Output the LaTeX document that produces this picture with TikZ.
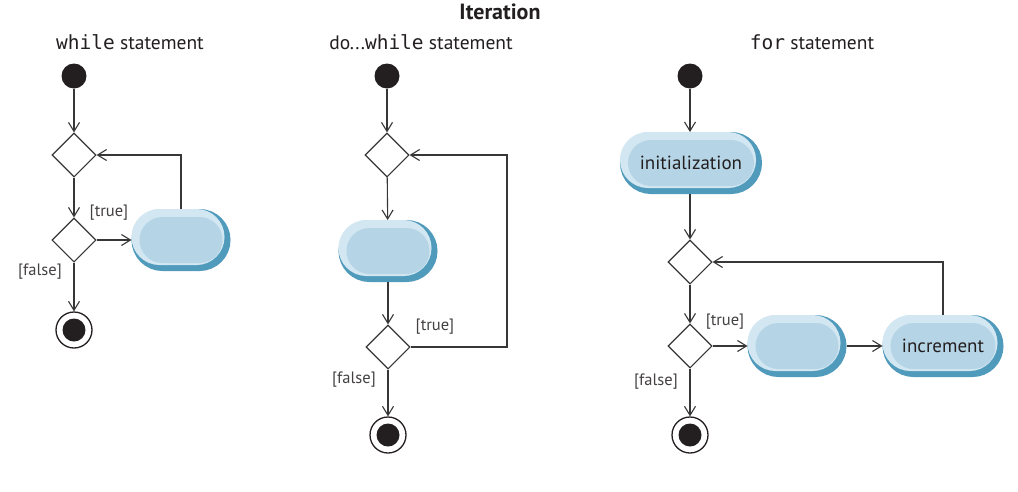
\documentclass[tikz,border=0pt]{standalone}
\usepackage{fontspec}
\setmainfont{PT Sans}
\setsansfont{PT Sans}
\setmonofont{DejaVu Sans Mono}
\usetikzlibrary{arrows.meta,positioning,shapes.geometric,shapes.misc}
\definecolor{ink}{RGB}{35,31,32}
\definecolor{wire}{RGB}{55,55,55}
\definecolor{actlight}{RGB}{210,231,241}
\definecolor{actbody}{RGB}{181,213,230}
\definecolor{actdark}{RGB}{80,155,188}
\tikzset{
  flow/.style={line width=1.1pt,wire,-{Straight Barb[length=9pt,width=11pt,line width=1.1pt]}},
  guard/.style={font=\fontsize{16.5}{19}\selectfont,text=ink!85,inner sep=1pt},
  heading/.style={font=\fontsize{19.5}{23}\selectfont,text=ink},
  decision/.style={diamond,draw=wire,line width=1.1pt,fill=white,
    minimum width=44pt,minimum height=44pt,inner sep=0pt},
  initial/.style={circle,fill=ink,minimum size=25pt,inner sep=0pt},
  final/.style={circle,draw=ink,line width=1.3pt,minimum size=36pt,inner sep=0pt,
    path picture={\fill[ink] (path picture bounding box.center) circle (11.5pt);}},
  activity/.style={rounded rectangle,fill=actbody,minimum height=46pt,
    minimum width=#1,inner sep=0pt,outer sep=8pt,
    font=\fontsize{19}{22}\selectfont,text=ink,
    preaction={draw=actdark,line width=16pt},
    preaction={draw=actlight,line width=10pt,transform canvas={shift={(-3pt,3pt)}}}}
}
\begin{document}
\begin{tikzpicture}[x=1pt,y=-1pt]
  \useasboundingbox[fill=white] (0,0) rectangle (1018,491);
  \node[font=\bfseries\fontsize{22}{26}\selectfont,text=ink] (title) at (500,12) {Iteration};

  % while statement
  \node[heading] (wh) at (130,42) {\texttt{while} statement};
  \node[initial] (ws) at (74,76) {};
  \node[decision] (wd1) at (74,155) {};
  \node[decision] (wd2) at (74,240) {};
  \node[activity=83pt] (wa) at (181,240) {};
  \node[final] (we) at (74,330) {};
  \draw[flow] (ws)--(wd1);
  \draw[flow] (wd1)--(wd2);
  \draw[flow] (wd2.east)--(wa.west);
  \draw[flow] (wa.north)|-(wd1.east);
  \draw[flow] (wd2)--(we);
  \node[guard] at (109,213) {[true]};
  \node[guard] at (40,272) {[false]};

  % do...while statement
  \node[heading] (dh) at (421,42) {do...\texttt{while} statement};
  \node[initial] (ds) at (387,76) {};
  \node[decision] (dd1) at (387,155) {};
  \node[activity=83pt] (da) at (388,251) {};
  \node[decision] (dd2) at (388,347) {};
  \node[final] (de) at (388,435) {};
  \coordinate (dc) at (507,347);
  \draw[flow] (ds)--(dd1);
  \draw[flow] (dd1)--(da);
  \draw[flow] (da)--(dd2);
  \draw[flow] (dd2.east)--(dc)|-(dd1.east);
  \draw[flow] (dd2)--(de);
  \node[guard] at (435,327) {[true]};
  \node[guard] at (354,380) {[false]};

  % for statement
  \node[heading] (fh) at (812,42) {\texttt{for} statement};
  \node[initial] (fs) at (690,76) {};
  \node[activity=126pt] (fi) at (691,163) {initialization};
  \node[decision] (fd1) at (690,262) {};
  \node[decision] (fd2) at (690,346) {};
  \node[activity=83pt] (fa) at (797,346) {};
  \node[activity=105pt] (fn) at (943,346) {increment};
  \node[final] (fe) at (690,435) {};
  \draw[flow] (fs)--(fs|-fi.north);
  \draw[flow] (fi.south-|fd1)--(fd1);
  \draw[flow] (fd1)--(fd2);
  \draw[flow] (fd2.east)--(fa.west);
  \draw[flow] (fa.east)--(fn.west);
  \draw[flow] (fn.north)|-(fd1.east);
  \draw[flow] (fd2)--(fe);
  \node[guard] at (725,322) {[true]};
  \node[guard] at (656,382) {[false]};
\end{tikzpicture}
\end{document}
